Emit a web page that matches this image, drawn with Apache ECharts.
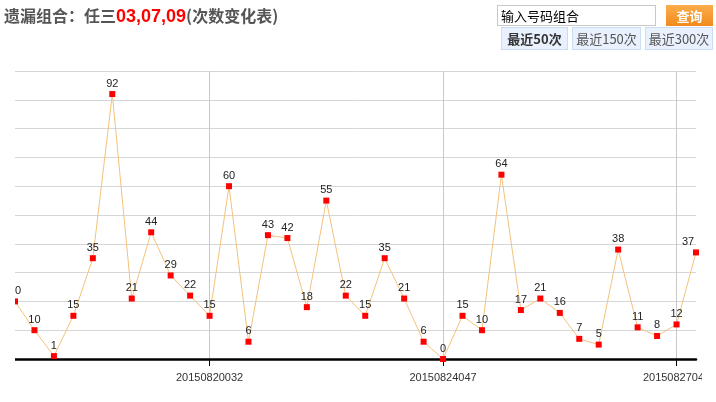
<!DOCTYPE html>
<html>
<head>
<meta charset="utf-8">
<script src="https://cdn.jsdelivr.net/npm/echarts@6/dist/echarts.min.js"></script>
<style>
  html, body { margin: 0; padding: 0; background: #fff; width: 716px; height: 402px; overflow: hidden; position: relative; font-family: "Noto Sans CJK SC", "Liberation Sans", sans-serif; }
  #chart { position: absolute; left: 15px; top: 0; width: 687px; height: 402px; }
  #title { position: absolute; left: 4px; top: 4px; font-size: 16px; font-weight: bold; color: #555; white-space: nowrap; line-height: 22px; z-index: 2; }
  #title .red { color: #ff0000; font-family: "Liberation Sans", Arial, sans-serif; font-size: 18px; }
  #search { position: absolute; left: 497px; top: 5px; width: 154px; height: 19px; border: 1px solid #c8c8c8; font-size: 13px; line-height: 19px; color: #000; padding-left: 3px; box-sizing: content-box; z-index: 2; }
  #btn { position: absolute; left: 666px; top: 5px; width: 47px; height: 21px; background: linear-gradient(#fbad4c, #f28a1e); border: 0; color: #fff; font-size: 13px; font-weight: bold; text-align: center; line-height: 21px; z-index: 2; }
  .tab { position: absolute; top: 27px; height: 23px; border: 1px solid #c9ddf6; background: #e8f1fd; color: #555; font-size: 13px; text-align: center; line-height: 21px; box-sizing: border-box; z-index: 2; }
  .tab.on { font-weight: bold; color: #333; }
</style>
</head>
<body>
<div id="chart"></div>
<div id="title">遗漏组合：任三<span class="red">03,07,09</span>(次数变化表)</div>
<div id="search">输入号码组合</div>
<div id="btn">查询</div>
<div class="tab on" style="left:501px;width:67px">最近50次</div>
<div class="tab" style="left:572px;width:69px">最近150次</div>
<div class="tab" style="left:645px;width:68px">最近300次</div>
<script>
// Data
var missValues = [20, 10, 1, 15, 35, 92, 21, 44, 29, 22, 15, 60, 6, 43, 42, 18, 55, 22, 15, 35, 21, 6, 0, 15, 10, 64, 17, 21, 16, 7, 5, 38, 11, 8, 12, 37];
var tickLabels = ["20150820032", "20150824047", "20150827047"];
var tickIndex = [10, 22, 34];
var yTicks = [0, 10, 20, 30, 40, 50, 60, 70, 80, 90, 100];

var categories = missValues.map(function (v, i) {
  var k = tickIndex.indexOf(i);
  return k >= 0 ? tickLabels[k] : "p" + i;
});
function isTick(i) { return tickIndex.indexOf(i) >= 0; }

var seriesData = missValues.map(function (v, i) {
  if (i === missValues.length - 1) {
    return { value: v, label: { offset: [-8, 0] } };
  }
  return v;
});

var chart = echarts.init(document.getElementById('chart'), null, { renderer: 'canvas' });
chart.setOption({
  animation: false,
  grid: { left: 0, right: 6, top: 71, bottom: 43, containLabel: false, outerBoundsMode: 'none' },
  xAxis: {
    type: 'category',
    data: categories,
    boundaryGap: false,
    axisLine: { show: true, lineStyle: { color: '#000', width: 2.5 } },
    axisTick: { show: true, interval: isTick, length: 7, lineStyle: { color: '#000', width: 1 } },
    axisLabel: { interval: isTick, color: '#333', fontSize: 11, fontFamily: 'Liberation Sans, Arial', margin: 13, hideOverlap: false },
    splitLine: { show: true, interval: isTick, lineStyle: { color: '#c8c8c8', width: 1 } }
  },
  yAxis: {
    type: 'value',
    min: yTicks[0],
    max: yTicks[yTicks.length - 1],
    interval: 10,
    axisLine: { show: false },
    axisTick: { show: false },
    axisLabel: { show: false },
    splitLine: { show: true, lineStyle: { color: '#d6d6d6', width: 1 } }
  },
  series: [{
    type: 'line',
    data: seriesData,
    symbol: 'rect',
    symbolSize: 6,
    lineStyle: { color: '#f3c27c', width: 1 },
    itemStyle: { color: '#ff0000' },
    label: { show: true, position: 'top', distance: 2, color: '#222', fontSize: 11, fontFamily: 'Liberation Sans, Arial' },
    z: 3
  }]
});
</script>
</body>
</html>
